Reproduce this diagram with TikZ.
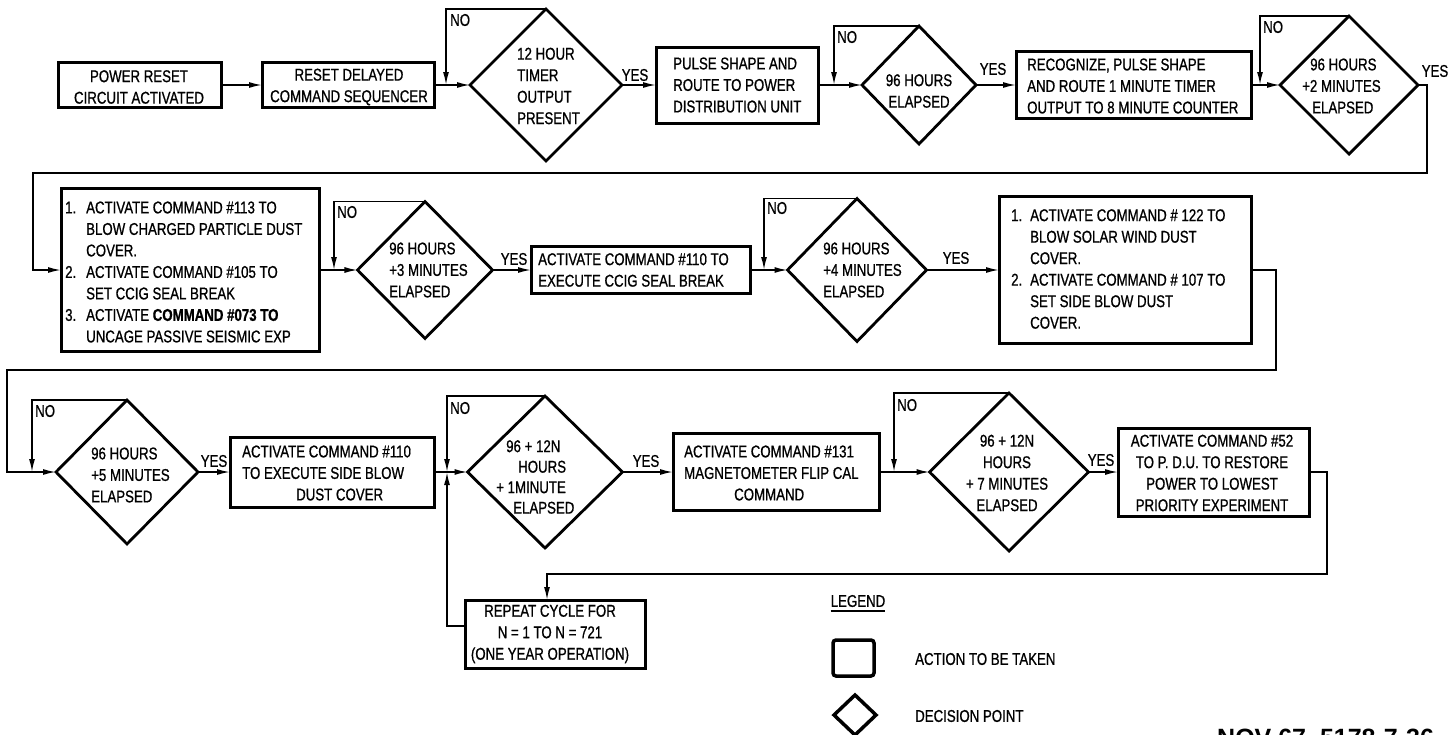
\documentclass[tikz,border=0pt]{standalone}
\usepackage{fontspec}
\setmainfont{Liberation Sans}[FakeStretch=0.78,FakeBold=0.8]
\newfontfamily\novfont{Liberation Sans}
\usetikzlibrary{shapes.geometric,arrows.meta}
\newcommand{\dgf}{\fontsize{17}{21.5}\selectfont}
\begin{document}
\begin{tikzpicture}[x=1pt,y=-1pt,
  box/.style={draw, line width=3pt, inner sep=0pt, outer sep=0pt},
  dia/.style={draw, shape=diamond, line width=2.8pt, inner sep=0pt, outer sep=0pt},
  txt/.style={font=\dgf, inner sep=0pt, align=left, anchor=west},
  ctxt/.style={font=\dgf, inner sep=0pt, align=center},
  lab/.style={font=\dgf, inner sep=0pt},
  conn/.style={line width=1.6pt},
  arr/.style={conn, -{Latex[length=13pt,width=6pt]}}]
\useasboundingbox (0,0) rectangle (1450,734);
\fill[white] (0,0) rectangle (1450,734);

% ---------- row 1 ----------
\node[box, minimum width=163, minimum height=45] (b1) at (139.5,85) {};
\node[box, minimum width=172, minimum height=45] (b2) at (348,85) {};
\node[dia, minimum width=152, minimum height=152] (d1) at (546,85) {};
\node[box, minimum width=162, minimum height=76] (b3) at (737,85) {};
\node[dia, minimum width=114, minimum height=118] (d2) at (919,85) {};
\node[box, minimum width=235, minimum height=67] (b4) at (1133.5,85) {};
\node[dia, minimum width=138, minimum height=138] (d3) at (1349,85) {};

\node[ctxt] (t1) at (139,87) {POWER RESET\\CIRCUIT ACTIVATED};
\node[ctxt] (t2) at (349,87) {RESET DELAYED\\COMMAND SEQUENCER};
\node[txt] (td1) at (517,86) {12 HOUR\\TIMER\\OUTPUT\\PRESENT};
\node[txt] (t3) at (673,85) {PULSE SHAPE AND\\ROUTE TO POWER\\DISTRIBUTION UNIT};
\node[ctxt] (td2) at (919,91) {96 HOURS\\ELAPSED};
\node[txt] (t4) at (1027,86) {RECOGNIZE, PULSE SHAPE\\AND ROUTE 1 MINUTE TIMER\\OUTPUT TO 8 MINUTE COUNTER};
\node[txt] (td3) at (1302,86) {\hspace*{8pt}96 HOURS\\+2 MINUTES\\\hspace*{10pt}ELAPSED};

% ---------- row 2 ----------
\node[box, minimum width=258, minimum height=163] (b5) at (190,270) {};
\node[dia, minimum width=135, minimum height=137] (d4) at (425,270) {};
\node[box, minimum width=219, minimum height=47] (b6) at (640.5,270) {};
\node[dia, minimum width=139, minimum height=143] (d5) at (857,270) {};
\node[box, minimum width=252, minimum height=147] (b7) at (1125,270) {};

\node[txt] (t5) at (65,272) {\makebox[21pt][l]{1.}ACTIVATE COMMAND \#113 TO\\
\hspace*{21pt}BLOW CHARGED PARTICLE DUST\\
\hspace*{21pt}COVER.\\
\makebox[21pt][l]{2.}ACTIVATE COMMAND \#105 TO\\
\hspace*{21pt}SET CCIG SEAL BREAK\\
\makebox[21pt][l]{3.}ACTIVATE \textbf{COMMAND \#073 TO}\\
\hspace*{21pt}UNCAGE PASSIVE SEISMIC EXP};
\node[txt] (td4) at (389,270) {96 HOURS\\+3 MINUTES\\ELAPSED};
\node[txt] (t6) at (538,270) {ACTIVATE COMMAND \#110 TO\\EXECUTE CCIG SEAL BREAK};
\node[txt] (td5) at (823,270) {96 HOURS\\+4 MINUTES\\ELAPSED};
\node[txt] (t7) at (1011,269) {\makebox[19pt][l]{1.}ACTIVATE COMMAND \# 122 TO\\
\hspace*{19pt}BLOW SOLAR WIND DUST\\
\hspace*{19pt}COVER.\\
\makebox[19pt][l]{2.}ACTIVATE COMMAND \# 107 TO\\
\hspace*{19pt}SET SIDE BLOW DUST\\
\hspace*{19pt}COVER.};

% ---------- row 3 ----------
\node[dia, minimum width=142, minimum height=144] (d6) at (127,472) {};
\node[box, minimum width=204, minimum height=70] (b8) at (332,472) {};
\node[dia, minimum width=155, minimum height=152] (d7) at (545,472) {};
\node[box, minimum width=206, minimum height=77] (b9) at (776,472) {};
\node[dia, minimum width=159, minimum height=158] (d8) at (1009,472) {};
\node[box, minimum width=191, minimum height=88] (b10) at (1213.5,472) {};
\node[box, minimum width=180, minimum height=68] (b11) at (555,634) {};

\node[txt] (td6) at (91,475) {96 HOURS\\+5 MINUTES\\ELAPSED};
\node[txt] (t8) at (242,473) {ACTIVATE COMMAND \#110\\TO EXECUTE SIDE BLOW\\\hspace*{54pt}DUST COVER};
\node[font=\fontsize{17}{20.5}\selectfont, inner sep=0pt, align=left, anchor=west] (td7) at (496,477) {\hspace*{10pt}96 + 12N\\\hspace*{22pt}HOURS\\+ 1MINUTE\\\hspace*{17pt}ELAPSED};
\node[txt] (t9) at (684,473) {ACTIVATE COMMAND \#131\\MAGNETOMETER FLIP CAL\\\hspace*{50pt}COMMAND};
\node[ctxt] (td8) at (1007,473) {96 + 12N\\HOURS\\+ 7 MINUTES\\ELAPSED};
\node[ctxt] (t10) at (1212,473) {ACTIVATE COMMAND \#52\\TO P. D.U. TO RESTORE\\POWER TO LOWEST\\PRIORITY EXPERIMENT};
\node[ctxt] (t11) at (550,634) {REPEAT CYCLE FOR\\N = 1 TO N = 721\\(ONE YEAR OPERATION)};

% ---------- junctions and bends ----------
\coordinate (j1) at (446,85);
\coordinate (j2) at (834,85);
\coordinate (j3) at (1260,85);
\coordinate (j4) at (334,270);
\coordinate (j5) at (764,270);
\coordinate (j6) at (32,472);
\coordinate (j7) at (447,472);
\coordinate (j8) at (894,472);
\coordinate (k1) at (1427,173);
\coordinate (k2) at (33,173);
\coordinate (k3) at (1276,370);
\coordinate (k4) at (7,370);
\coordinate (k5) at (1327,574);
\coordinate (r1) at (547,600);

% ---------- connectors ----------
\draw[arr] (b1) -- (b2);
\draw[arr] (b2) -- (d1);
\draw[arr] (d1.north) -| (j1);
\draw[arr] (d1) -- (b3);
\draw[arr] (b3) -- (d2);
\draw[arr] (d2.north) -| (j2);
\draw[arr] (d2) -- (b4);
\draw[arr] (b4) -- (d3);
\draw[arr] (d3.north) -| (j3);
\draw[arr] (d3.east) -| (k1) -- (k2) |- (b5.west);
\draw[arr] (b5) -- (d4);
\draw[arr] (d4.north) -| (j4);
\draw[arr] (d4) -- (b6);
\draw[arr] (b6) -- (d5);
\draw[arr] (d5.north) -| (j5);
\draw[arr] (d5) -- (b7);
\draw[arr] (b7.east) -| (k3) -- (k4) |- (d6.west);
\draw[arr] (d6.north) -| (j6);
\draw[arr] (d6) -- (b8);
\draw[arr] (b8) -- (d7);
\draw[arr] (d7.north) -| (j7);
\draw[arr] (d7) -- (b9);
\draw[arr] (b9) -- (d8);
\draw[arr] (d8.north) -| (j8);
\draw[arr] (d8) -- (b10);
\draw[arr] (b10.east) -| (k5) -| (r1);
\draw[arr] ([yshift=8pt]b11.west) -| (j7);

% ---------- YES / NO labels ----------
\node[lab, anchor=west] (n1) at (450,20) {NO};
\node[lab, anchor=west] (n2) at (837,37) {NO};
\node[lab, anchor=west] (n3) at (1263,27) {NO};
\node[lab, anchor=west] (n4) at (337,212) {NO};
\node[lab, anchor=west] (n5) at (767,208) {NO};
\node[lab, anchor=west] (n6) at (35,411) {NO};
\node[lab, anchor=west] (n7) at (450,408) {NO};
\node[lab, anchor=west] (n8) at (897,405) {NO};
\node[lab] (y1) at (635,75) {YES};
\node[lab] (y2) at (993,69) {YES};
\node[lab] (y3) at (1435,71) {YES};
\node[lab] (y4) at (514,259) {YES};
\node[lab] (y5) at (956,258) {YES};
\node[lab] (y6) at (214,461) {YES};
\node[lab] (y7) at (646,461) {YES};
\node[lab] (y8) at (1101,460) {YES};

% ---------- legend ----------
\node[lab] (lg) at (858,601) {LEGEND};
\draw[line width=2pt] ([yshift=-4pt]lg.south west) -- ([yshift=-4pt]lg.south east);
\node[box, line width=3.5pt, rounded corners=3pt, minimum width=41, minimum height=36] (ls) at (853.5,658) {};
\node[lab, anchor=west] (la) at (915,659) {ACTION TO BE TAKEN};
\node[dia, line width=3.5pt, minimum width=42, minimum height=40] (ld) at (855,715) {};
\node[lab, anchor=west] (lp) at (915,716) {DECISION POINT};

\node[anchor=north west, inner sep=0pt, font=\novfont\bfseries\fontsize{25}{25}\selectfont] (nov) at (1217,729) {NOV 67\ \ 5178-7-36};
\end{tikzpicture}
\end{document}
